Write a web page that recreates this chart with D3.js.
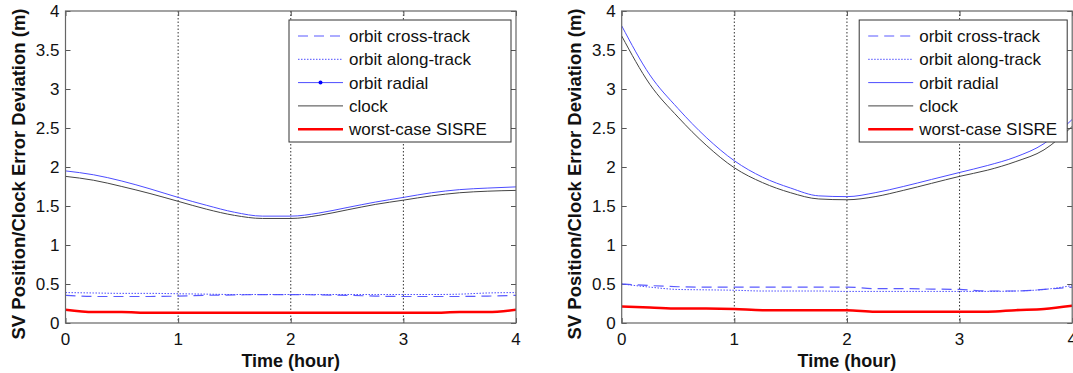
<!DOCTYPE html>
<html lang=en>
<head>
	<meta charset="utf-8">
	<title>SV position / clock error deviation</title>
	<script src="https://cdn.jsdelivr.net/npm/d3@7"></script>
	<style>
	body { margin: 0; background: #fff; }
	text { font-family: "Liberation Sans", Arial, sans-serif; fill: #111; }
	</style>
</head>
<body>
	<script type="text/javascript">
	// time axis (hours), sampled every quarter hour
	var hours = [0, 0.25, 0.5, 0.75, 1, 1.25, 1.5, 1.75, 2, 2.25, 2.5, 2.75, 3, 3.25, 3.5, 3.75, 4];

	// left panel
	var leftCross  = [0.355, 0.34, 0.34, 0.34, 0.345, 0.355, 0.36, 0.365, 0.365, 0.36, 0.355, 0.345, 0.34, 0.34, 0.34, 0.345, 0.355];
	var leftAlong  = [0.39, 0.385, 0.38, 0.38, 0.375, 0.37, 0.365, 0.365, 0.365, 0.365, 0.365, 0.365, 0.365, 0.365, 0.37, 0.385, 0.39];
	var leftRadial = [1.95, 1.90, 1.82, 1.72, 1.61, 1.51, 1.42, 1.37, 1.37, 1.41, 1.48, 1.55, 1.61, 1.67, 1.71, 1.73, 1.745];
	var leftClock  = [1.88, 1.83, 1.75, 1.66, 1.56, 1.46, 1.38, 1.34, 1.34, 1.38, 1.45, 1.52, 1.575, 1.63, 1.67, 1.69, 1.70];
	var leftSisre  = [0.17, 0.14, 0.14, 0.13, 0.13, 0.13, 0.13, 0.13, 0.13, 0.13, 0.13, 0.13, 0.13, 0.13, 0.14, 0.14, 0.17];

	// right panel
	var rightCross  = [0.50, 0.48, 0.465, 0.46, 0.46, 0.46, 0.46, 0.46, 0.46, 0.44, 0.44, 0.435, 0.43, 0.41, 0.41, 0.43, 0.46];
	var rightAlong  = [0.50, 0.46, 0.43, 0.425, 0.42, 0.41, 0.41, 0.41, 0.405, 0.405, 0.405, 0.405, 0.405, 0.405, 0.41, 0.43, 0.48];
	var rightRadial = [3.81, 3.18, 2.75, 2.38, 2.08, 1.87, 1.73, 1.63, 1.62, 1.67, 1.75, 1.84, 1.93, 2.02, 2.13, 2.30, 2.61];
	var rightClock  = [3.68, 3.06, 2.64, 2.28, 1.99, 1.80, 1.67, 1.59, 1.58, 1.62, 1.70, 1.79, 1.88, 1.96, 2.07, 2.22, 2.52];
	var rightSisre  = [0.21, 0.20, 0.185, 0.185, 0.18, 0.165, 0.165, 0.165, 0.165, 0.145, 0.145, 0.145, 0.145, 0.145, 0.165, 0.18, 0.22];

	var seriesNames = ["orbit cross-track", "orbit along-track", "orbit radial", "clock", "worst-case SISRE"];
	var xTicks = [0, 1, 2, 3, 4];
	var yTicks = [0, 0.5, 1, 1.5, 2, 2.5, 3, 3.5, 4];
	var xTitle = "Time (hour)";
	var yTitle = "SV Position/Clock Error Deviation (m)";

	// line styles, same order as seriesNames
	var styles = [
		{color: '#5a5aff', width: 1.2, dash: '10,6'},
		{color: '#4d4dff', width: 1, dash: '1.5,1.5'},
		{color: '#4d4dff', width: 1, dash: null},
		{color: '#444444', width: 1, dash: null},
		{color: '#ff0000', width: 2.5, dash: null}
	];

	var svg = d3.select('body')
				.append('svg')
				.attr('width', 1073)
				.attr('height', 373);

	var plotTop = 11, plotBottom = 323, plotW = 450.5;

	function drawPanel(left, series, legendW, radialMarker){
		var x = d3.scaleLinear().domain([0, 4]).range([left, left + plotW]);
		var y = d3.scaleLinear().domain([0, 4]).range([plotBottom, plotTop]);
		var g = svg.append('g');

		// vertical dotted grid
		g.selectAll('.grid')
			.data(xTicks.slice(1, 4))
			.enter()
			.append('line')
			.attr('x1', function(d){ return x(d); })
			.attr('x2', function(d){ return x(d); })
			.attr('y1', plotTop)
			.attr('y2', plotBottom)
			.attr('stroke', '#333')
			.attr('stroke-width', 1)
			.attr('stroke-dasharray', '1.5,2');

		// inward ticks on all four sides
		function plain(a){ a.select('.domain').remove(); a.selectAll('line').attr('stroke', '#555'); }
		g.append('g')
			.attr('transform', 'translate(0,' + plotBottom + ')')
			.call(d3.axisBottom(x).tickValues(xTicks).tickSize(-5).tickFormat(''))
			.call(plain);
		g.append('g')
			.attr('transform', 'translate(0,' + plotTop + ')')
			.call(d3.axisTop(x).tickValues(xTicks).tickSize(-5).tickFormat(''))
			.call(plain);
		g.append('g')
			.attr('transform', 'translate(' + left + ',0)')
			.call(d3.axisLeft(y).tickValues(yTicks).tickSize(-5).tickFormat(''))
			.call(plain);
		g.append('g')
			.attr('transform', 'translate(' + (left + plotW) + ',0)')
			.call(d3.axisRight(y).tickValues(yTicks).tickSize(-5).tickFormat(''))
			.call(plain);

		// data lines
		var line = d3.line()
					.x(function(d){ return x(d[0]); })
					.y(function(d){ return y(d[1]); })
					.curve(d3.curveMonotoneX);

		var clip = 'clip' + Math.round(left);
		svg.append('clipPath').attr('id', clip)
			.append('rect').attr('x', left).attr('y', plotTop).attr('width', plotW).attr('height', plotBottom - plotTop);

		var order = [3, 2, 0, 1, 4];
		order.forEach(function(k){
			var pts = hours.map(function(h, i){ return [h, series[k][i]]; });
			g.append('path')
				.attr('d', line(pts))
				.attr('clip-path', 'url(#' + clip + ')')
				.attr('fill', 'none')
				.attr('stroke', styles[k].color)
				.attr('stroke-width', styles[k].width)
				.attr('stroke-dasharray', styles[k].dash);
		});

		// frame
		g.append('rect')
			.attr('x', left).attr('y', plotTop)
			.attr('width', plotW).attr('height', plotBottom - plotTop)
			.attr('fill', 'none')
			.attr('stroke', '#666')
			.attr('stroke-width', 1.2);

		// tick labels
		g.selectAll('.xl')
			.data(xTicks)
			.enter()
			.append('text')
			.attr('x', function(d){ return x(d); })
			.attr('y', plotBottom + 22)
			.attr('text-anchor', 'middle')
			.style('font-size', '17px')
			.text(function(d){ return d; });
		g.selectAll('.yl')
			.data(yTicks)
			.enter()
			.append('text')
			.attr('x', left - 6)
			.attr('y', function(d){ return y(d); })
			.attr('dy', '0.35em')
			.attr('text-anchor', 'end')
			.style('font-size', '17px')
			.text(function(d){ return d; });

		// axis titles
		g.append('text')
			.attr('x', left + plotW / 2)
			.attr('y', 367)
			.attr('text-anchor', 'middle')
			.style('font-size', '18px')
			.style('font-weight', 'bold')
			.text(xTitle);
		g.append('text')
			.attr('transform', 'translate(' + (left - 41) + ',174) rotate(-90)')
			.attr('text-anchor', 'middle')
			.style('font-size', '18.5px')
			.style('font-weight', 'bold')
			.text(yTitle);

		// legend
		var lx = left + plotW - 5 - legendW, ly = 20;
		var leg = g.append('g');
		leg.append('rect')
			.attr('x', lx).attr('y', ly)
			.attr('width', legendW).attr('height', 122)
			.attr('fill', '#fff')
			.attr('stroke', '#333')
			.attr('stroke-width', 1);
		seriesNames.forEach(function(name, i){
			var cy = ly + 16 + i * 23.3;
			leg.append('line')
				.attr('x1', lx + 9).attr('x2', lx + 54)
				.attr('y1', cy).attr('y2', cy)
				.attr('stroke', styles[i].color)
				.attr('stroke-width', styles[i].width)
				.attr('stroke-dasharray', styles[i].dash);
			if(i == 2 && radialMarker){
				leg.append('circle')
					.attr('cx', lx + 31.5).attr('cy', cy).attr('r', 2)
					.attr('fill', '#0000ff');
			}
			leg.append('text')
				.attr('x', lx + 60)
				.attr('y', cy)
				.attr('dy', '0.35em')
				.style('font-size', '17px')
				.text(name);
		});
	}

	drawPanel(65.5, [leftCross, leftAlong, leftRadial, leftClock, leftSisre], 222, true);
	drawPanel(621.7, [rightCross, rightAlong, rightRadial, rightClock, rightSisre], 208, false);
	</script>
</body>
</html>
